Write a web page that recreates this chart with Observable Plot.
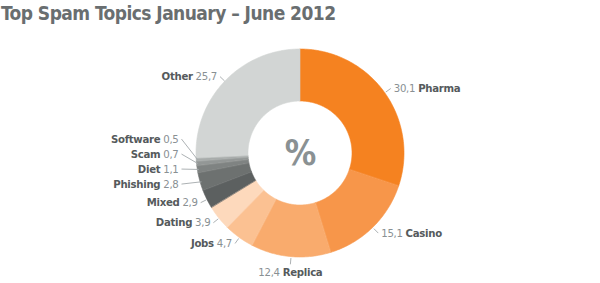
<!DOCTYPE html>
<html><head><meta charset="utf-8">
<script src="https://cdn.jsdelivr.net/npm/d3@7"></script>
<script src="https://cdn.jsdelivr.net/npm/@observablehq/plot@0.6"></script>
<style>
body{margin:0;background:#fff;width:600px;height:283px;overflow:hidden;font-family:"DejaVu Sans Condensed","DejaVu Sans",sans-serif}
#title{font-weight:bold;font-size:19px;color:#696e70;height:28px;line-height:26px;padding-left:1px;white-space:nowrap;letter-spacing:-0.55px}
#chart svg{display:block}
#chart svg .lbl text{letter-spacing:-0.3px}
</style></head><body>
<div id="title">Top Spam Topics January – June 2012</div>
<div id="chart"></div>
<script>
// ---- data ----
const topics = ["Pharma","Casino","Replica","Jobs","Dating","Mixed","Phishing","Diet","Scam","Software","Other"];
const shares = [30.1,15.1,12.4,4.7,3.9,2.9,2.8,1.1,0.7,0.5,25.7];
const colors = ["#f58220","#f7964a","#f9ab6d","#fbc192","#fdd9bc","#5c6060","#6d7170","#7f8382","#939796","#a8acab","#d2d5d4"];
const centerLabel = "%";

// ---- layout ----
const FONT = '"DejaVu Sans Condensed","DejaVu Sans",sans-serif';
const FS = 11.3, LS = -0.3;
const R = 104, W = 600, H = 255, CX = 300, CY = 125, INNER = 0.5;
const fmt = d3.formatLocale({decimal: ",", thousands: ".", grouping: [3], currency: ["", ""]}).format(".1f");
const ctx = document.createElement("canvas").getContext("2d");
const tw = (t, bold) => {
  ctx.font = `${bold ? "bold " : ""}${FS}px ${FONT}`;
  if ("letterSpacing" in ctx) { ctx.letterSpacing = LS + "px"; return ctx.measureText(t).width; }
  return ctx.measureText(t).width + LS * t.length;
};

const data = topics.map((t, i) => ({topic: t, share: shares[i]}));
const arcs = d3.pie().sort(null).value(d => d.share).startAngle(0).endAngle(2 * Math.PI)(data);

const ring = [];
arcs.forEach(a => {
  const n = Math.max(2, Math.ceil((a.endAngle - a.startAngle) / (Math.PI / 180)));
  for (let k = 0; k <= n; k++) {
    const ang = a.startAngle + (a.endAngle - a.startAngle) * k / n;
    ring.push({topic: a.data.topic, x1: INNER * Math.sin(ang), y1: INNER * Math.cos(ang), x2: Math.sin(ang), y2: Math.cos(ang)});
  }
});

const labels = arcs.map(a => {
  const m = (a.startAngle + a.endAngle) / 2, s = Math.sin(m), c = Math.cos(m);
  return {topic: a.data.topic, value: fmt(a.data.share), s, c,
    side: s > 0.3 ? "right" : s < -0.3 ? "left" : "center",
    ax: 1.01 * s, ay: 1.01 * c, lx: 1.07 * s, ly: 1.07 * c};
});

// resolve collisions of left labels (stack them in a column)
const GAP = 15 / R, COLX = (181 - CX) / R;
const left = labels.filter(d => d.side === "left").sort((a, b) => a.ly - b.ly);
const groups = []; let cur = [left[0]];
for (let i = 1; i < left.length; i++) {
  if (left[i].ly - left[i - 1].ly < GAP) cur.push(left[i]); else { groups.push(cur); cur = [left[i]]; }
}
groups.push(cur);
groups.filter(g => g.length > 1).forEach(g => {
  let prev = -Infinity;
  g.forEach(d => { d.ly = Math.max(d.ly, prev + GAP); prev = d.ly; d.lx = COLX; d.ax = 0.99 * d.s; d.ay = 0.99 * d.c; });
});

const valueTexts = [], nameTexts = [];
labels.forEach(d => {
  const wv = tw(d.value, false), wn = tw(d.topic, true), ws = tw(" ", false);
  let vx, nx, y = d.ly;
  if (d.side === "right") { vx = d.lx + 3 / R; nx = vx + (wv + ws) / R; }
  else if (d.side === "left") { vx = d.lx - (3 + wv) / R; nx = vx - (ws + wn) / R; }
  else { const tot = wv + ws + wn; vx = d.lx - tot / 2 / R; nx = vx + (wv + ws) / R; y = d.ly - 8 / R; }
  valueTexts.push({x: vx, y, text: d.value});
  nameTexts.push({x: nx, y, text: d.topic});
});

const chart = Plot.plot({
  width: W, height: H, margin: 0,
  x: {domain: [-CX / R, (W - CX) / R], axis: null},
  y: {domain: [-(H - CY) / R, CY / R], axis: null},
  color: {domain: topics, range: colors},
  marks: [
    Plot.area(ring, {x1: "x1", y1: "y1", x2: "x2", y2: "y2", z: "topic", fill: "topic", stroke: "topic", strokeWidth: 0.6, curve: "linear"}),
    Plot.link(labels, {x1: "ax", y1: "ay", x2: "lx", y2: "ly", stroke: "#a3a8aa", strokeWidth: 0.9}),
    Plot.text(valueTexts, {x: "x", y: "y", text: "text", textAnchor: "start", fill: "#899093", fontSize: FS, fontFamily: FONT, className: "lbl"}),
    Plot.text(nameTexts, {x: "x", y: "y", text: "text", textAnchor: "start", fill: "#555a5c", fontSize: FS, fontWeight: "bold", fontFamily: FONT, className: "lbl"}),
    Plot.text([centerLabel], {x: [0], y: [0], text: d => d, fill: "#8a9193", fontSize: 35, fontWeight: "bold", fontFamily: FONT})
  ]
});
document.getElementById("chart").append(chart);
</script>
</body></html>
